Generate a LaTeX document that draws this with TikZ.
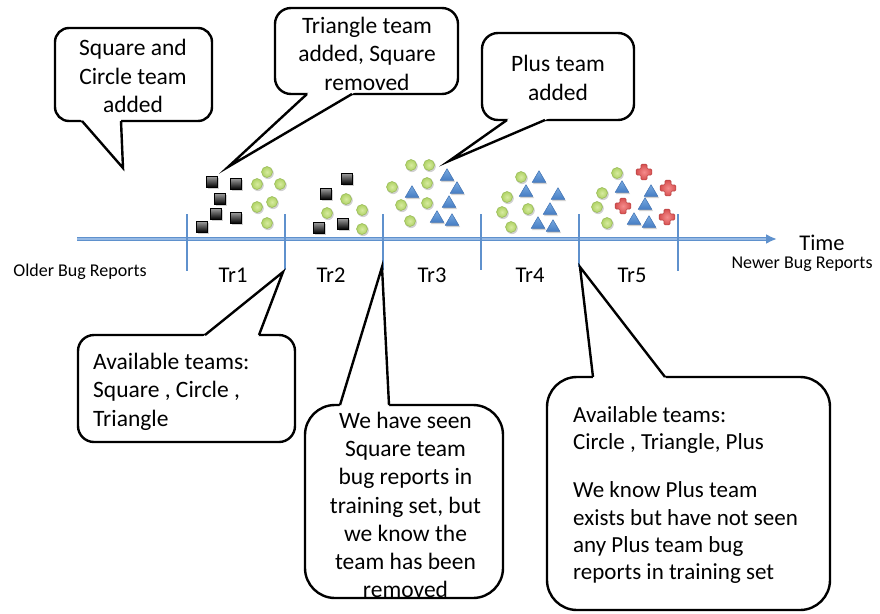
\documentclass[tikz,border=0pt]{standalone}
\usepackage{fontspec}
\setmainfont{Carlito}
\usetikzlibrary{arrows.meta,calc}
\definecolor{tlblue}{RGB}{95,145,205}
\definecolor{tlcore}{RGB}{150,185,228}
\definecolor{grA}{RGB}{215,235,160}
\definecolor{grB}{RGB}{175,210,100}
\definecolor{grC}{RGB}{150,185,85}
\definecolor{blA}{RGB}{120,170,225}
\definecolor{blB}{RGB}{70,125,195}
\definecolor{blC}{RGB}{65,115,180}
\definecolor{rdA}{RGB}{245,140,140}
\definecolor{rdB}{RGB}{215,80,80}
\definecolor{rdC}{RGB}{190,70,70}
\tikzset{
  lbl/.style={font=\fontsize{22.5}{27}\selectfont, inner sep=0pt},
  smalltxt/.style={font=\fontsize{18}{22}\selectfont, inner sep=0pt},
  ctext/.style={font=\fontsize{23.5}{28.5}\selectfont, inner sep=0pt, align=center},
  ltext/.style={font=\fontsize{23.5}{28.5}\selectfont, inner sep=0pt, align=left, anchor=west},
  callbox/.style={draw=black, line width=2.4pt, fill=white},
  ptr/.style={draw=black, line width=2.4pt, line join=miter},
  tline/.style={draw=tlblue, line width=4pt},
  tickln/.style={draw=tlblue, line width=2.6pt},
  shd/.style={fill=black, opacity=0.18},
}
\newcommand\mysq[2]{%
  \fill[shd] (#1-4.5,#2-4) rectangle (#1+7,#2+7);
  \shade[top color=black!40, bottom color=black, draw=black, line width=0.6pt] (#1-5.3,#2-5.3) rectangle (#1+5.3,#2+5.3);}
\newcommand\mycirc[2]{%
  \fill[shd] (#1+1,#2+1.3) circle[radius=5.8];
  \shade[inner color=grA, outer color=grB, draw=grC, line width=0.5pt] (#1,#2) circle[radius=5.5];}
\newcommand\mytri[2]{%
  \fill[shd] (#1+1,#2-5) -- (#1+8,#2+7) -- (#1-6,#2+7) -- cycle;
  \shade[top color=blA, bottom color=blB, draw=blC, line width=0.5pt, line join=round] (#1,#2-6.3) -- (#1+6.8,#2+5.3) -- (#1-6.8,#2+5.3) -- cycle;}
\newcommand\myplus[2]{%
  \shade[inner color=rdA, outer color=rdB, draw=rdC, line width=0.6pt, rounded corners=1.2pt] (#1-3,#2-7.8) -- (#1+3,#2-7.8) -- (#1+3,#2-3) -- (#1+7.8,#2-3) -- (#1+7.8,#2+3) -- (#1+3,#2+3) -- (#1+3,#2+7.8) -- (#1-3,#2+7.8) -- (#1-3,#2+3) -- (#1-7.8,#2+3) -- (#1-7.8,#2-3) -- (#1-3,#2-3) -- cycle;}
% #1 radius, #2 nw, #3 se, #4 base1, #5 tip, #6 base2
\newcommand\mycall[6]{%
  \draw[callbox, rounded corners=#1] (#2) rectangle (#3);
  \fill[white] (#5) -- ($(#5)!1.08!(#4)$) -- ($(#5)!1.08!(#6)$) -- cycle;
  \draw[ptr] (#4) -- (#5) -- (#6);
}
\begin{document}
\begin{tikzpicture}[x=1pt,y=-1pt]
\fill[white] (0,0) rectangle (880,613);
\useasboundingbox (0,0) rectangle (880,613);
% timeline
\coordinate (tl0) at (77,239);
\coordinate (tl1) at (777,239);
\coordinate (tlc) at (766,239);
\draw[tline, -{Latex[length=11pt,width=10pt]}] (tl0) -- (tl1);
\draw[draw=tlcore, line width=1.3pt] (tl0) -- (tlc);
\foreach \x/\b in {187/271,285/270,383/270,481/270,579/267,678/271}
  {\draw[tickln] (\x,214) -- (\x,\b);}
% labels
\node[smalltxt] (older) at (80,272) {Older Bug Reports};
\node[smalltxt] (newer) at (802,264) {Newer Bug Reports};
\node[lbl] (time) at (822,243) {Time};
\node[lbl] (tr1) at (233,275) {Tr1};
\node[lbl] (tr2) at (331,275) {Tr2};
\node[lbl] (tr3) at (432,275) {Tr3};
\node[lbl] (tr4) at (530,275) {Tr4};
\node[lbl] (tr5) at (632,275) {Tr5};
% squares
\foreach \x/\y in {212/182,236/184,220/199,216/214,236/218,202/227,347/179,326/194,343/224,319/228}
  {\mysq{\x}{\y}}
% circles
\foreach \x/\y in {267/172,257/184,280/184,272/202,257/207,267/223,
  346/199,327/213,362/210,362/229,
  411/165,429/165,392/187,427/183,401/205,427/203,410/221,
  521/177,507/197,502/212,528/209,511/227,
  617/173,602/193,597/207,607/223}
  {\mycirc{\x}{\y}}
% triangles
\foreach \x/\y in {447/175,412/192,457/188,449/202,437/217,452/220,
  539/177,526/191,558/194,550/209,538/223,553/226,
  622/187,651/191,645/204,634/219,649/222}
  {\mytri{\x}{\y}}
% pluses
\foreach \x/\y in {644/172,668/188,623/206,667/217}
  {\myplus{\x}{\y}}
% callouts
\mycall{14pt}{55,28}{212,121}{82,121}{123,168}{121,121}
\node[ctext] (ca) at (133,76) {Square and\\Circle team\\added};
\mycall{16pt}{275,8}{458,94}{307,94}{228,167}{352,94}
\node[ctext] (cb) at (367,53.5) {Triangle team\\added, Square\\removed};
\mycall{16pt}{482,33}{634,120}{507,120}{449,161}{545,120}
\node[ctext] (cc) at (558,78) {Plus team\\added};
\mycall{16pt}{78,335}{295,442}{205,335}{283,272}{259,335}
\node[ltext] (cd) at (93,391.5) {Available teams:\\Square , Circle ,\\Triangle};
\mycall{30pt}{305,405}{503,598}{340,405}{382,267}{389,405}
\node[ctext, font=\fontsize{23.5}{28.2}\selectfont] (ce) at (405.5,505) {We have seen\\Square team\\bug reports in\\training set, but\\we know the\\team has been\\removed};
\coordinate (eb0) at (336,598);
\coordinate (eb1) at (472,598);
\draw[line width=2.4pt] (eb0) -- (eb1);
\mycall{30pt}{547,377}{830,610}{593,377}{580,267}{665,377}
\node[ltext, font=\fontsize{23}{27.3}\selectfont] (cf) at (573,495) {Available teams:\\Circle , Triangle, Plus\\[21pt]We know Plus team\\exists but have not seen\\any Plus team bug\\reports in training set};
\end{tikzpicture}
\end{document}
